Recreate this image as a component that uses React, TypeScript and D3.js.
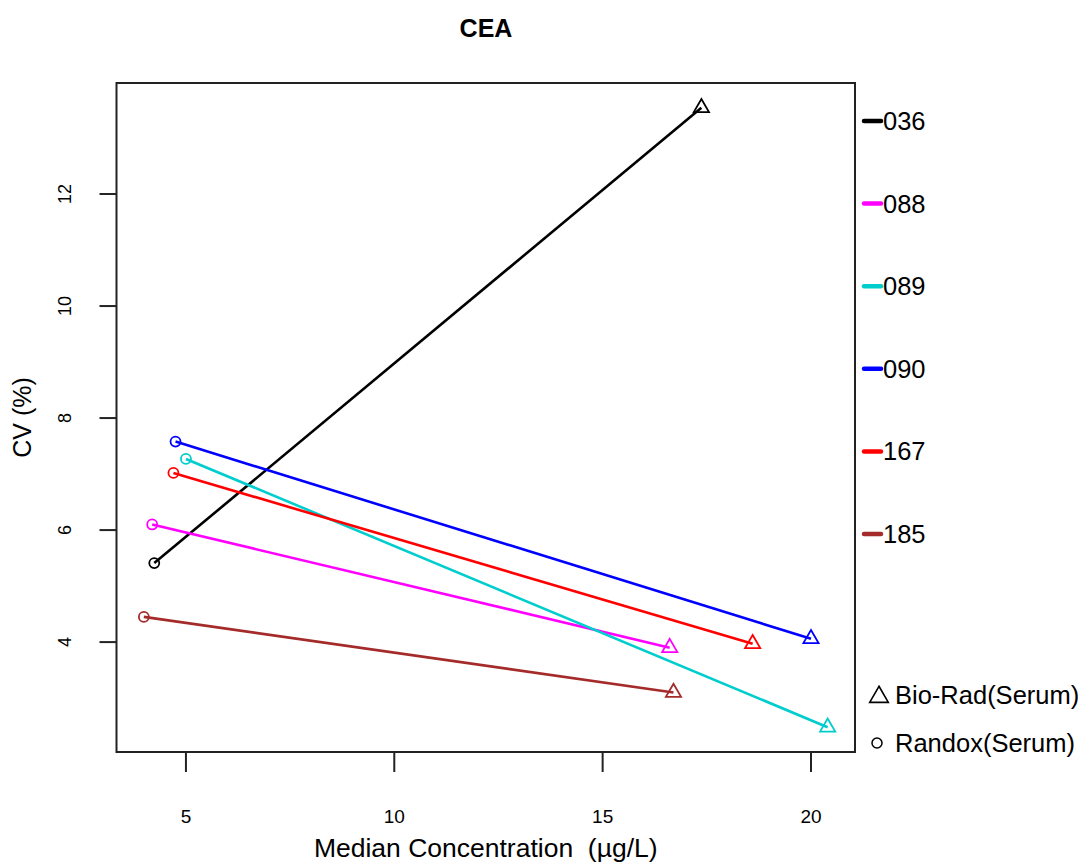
import React from "react";
import * as d3 from "d3";

// Laboratories and their colours
const labs = ["036", "088", "089", "090", "167", "185"];
const labColors = ["#000000", "#FF00FF", "#00CDCD", "#0000FF", "#FF0000", "#A52A2A"];

// Randox (Serum) control: median concentration (µg/L) and CV (%)
const randoxMedian = [4.24, 4.19, 5.0, 4.75, 4.7, 3.99];
const randoxCV = [5.41, 6.1, 7.27, 7.58, 7.02, 4.45];

// Bio-Rad (Serum) control: median concentration (µg/L) and CV (%)
const bioradMedian = [17.37, 16.61, 20.4, 20.0, 18.6, 16.7];
const bioradCV = [13.54, 3.9, 2.48, 4.06, 3.97, 3.1];

const xTicks = [5, 10, 15, 20];
const yTicks = [4, 6, 8, 10, 12];

const W = 1090;
const H = 865;
const box = { left: 116.5, right: 855, top: 83, bottom: 752 };
const font = "'Liberation Sans', Arial, Helvetica, sans-serif";

function padded(vals: number[]): [number, number] {
  const lo = d3.min(vals) as number;
  const hi = d3.max(vals) as number;
  const p = (hi - lo) * 0.04;
  return [lo - p, hi + p];
}

export default function App() {
  const x = d3
    .scaleLinear()
    .domain(padded([...randoxMedian, ...bioradMedian]))
    .range([box.left, box.right]);
  const y = d3
    .scaleLinear()
    .domain(padded([...randoxCV, ...bioradCV]))
    .range([box.bottom, box.top]);

  const tri = d3.symbol(d3.symbolTriangle, 100)() as string;
  const legendTri = d3.symbol(d3.symbolTriangle, 150)() as string;
  const legendStep = 82.6;
  const legendTop = 121;

  return (
    <svg
      width={W}
      height={H}
      style={{ position: "absolute", left: 0, top: 0, background: "#fff" }}
      fontFamily={font}
    >
      <rect x={0} y={0} width={W} height={H} fill="#fff" />
      <text x={486} y={28} textAnchor="middle" dominantBaseline="central" fontSize={25} fontWeight="bold">
        CEA
      </text>

      {/* series: Randox point joined to Bio-Rad point */}
      {labs.map((lab, i) => (
        <g key={lab}>
          <line
            x1={x(randoxMedian[i])}
            y1={y(randoxCV[i])}
            x2={x(bioradMedian[i])}
            y2={y(bioradCV[i])}
            stroke={labColors[i]}
            strokeWidth={2.6}
          />
          <circle
            cx={x(randoxMedian[i])}
            cy={y(randoxCV[i])}
            r={5}
            fill="none"
            stroke={labColors[i]}
            strokeWidth={1.8}
          />
          <path
            d={tri}
            transform={`translate(${x(bioradMedian[i])},${y(bioradCV[i])})`}
            fill="none"
            stroke={labColors[i]}
            strokeWidth={1.8}
          />
        </g>
      ))}

      <rect
        x={box.left}
        y={box.top}
        width={box.right - box.left}
        height={box.bottom - box.top}
        fill="none"
        stroke="#222"
        strokeWidth={2}
      />

      {/* x axis */}
      {xTicks.map((t) => (
        <g key={t}>
          <line x1={x(t)} x2={x(t)} y1={box.bottom} y2={box.bottom + 20} stroke="#222" strokeWidth={2} />
          <text x={x(t)} y={816} textAnchor="middle" dominantBaseline="central" fontSize={19}>
            {t}
          </text>
        </g>
      ))}
      <text
        x={(box.left + box.right) / 2}
        y={848}
        textAnchor="middle"
        dominantBaseline="central"
        fontSize={26.5}
        style={{ whiteSpace: "pre" }}
      >
        {"Median Concentration  (µg/L)"}
      </text>

      {/* y axis */}
      {yTicks.map((t) => (
        <g key={t}>
          <line x1={box.left - 17} x2={box.left} y1={y(t)} y2={y(t)} stroke="#222" strokeWidth={2} />
          <text
            transform={`translate(65,${y(t)}) rotate(-90)`}
            textAnchor="middle"
            dominantBaseline="central"
            fontSize={18}
          >
            {t}
          </text>
        </g>
      ))}
      <text
        transform={`translate(22,${(box.top + box.bottom) / 2}) rotate(-90)`}
        textAnchor="middle"
        dominantBaseline="central"
        fontSize={25}
      >
        CV (%)
      </text>

      {/* lab legend */}
      {labs.map((lab, i) => {
        const ly = legendTop + i * legendStep;
        return (
          <g key={lab}>
            <line x1={864} x2={881} y1={ly} y2={ly} stroke={labColors[i]} strokeWidth={4.5} strokeLinecap="round" />
            <text x={883} y={ly} dominantBaseline="central" fontSize={25.5}>
              {lab}
            </text>
          </g>
        );
      })}

      {/* control legend */}
      <path d={legendTri} transform="translate(879,697)" fill="none" stroke="#000" strokeWidth={1.6} />
      <text x={895} y={695} dominantBaseline="central" fontSize={25.5}>
        Bio-Rad(Serum)
      </text>
      <circle cx={877} cy={743} r={5} fill="none" stroke="#000" strokeWidth={1.5} />
      <text x={895} y={743} dominantBaseline="central" fontSize={25.5}>
        Randox(Serum)
      </text>
    </svg>
  );
}
